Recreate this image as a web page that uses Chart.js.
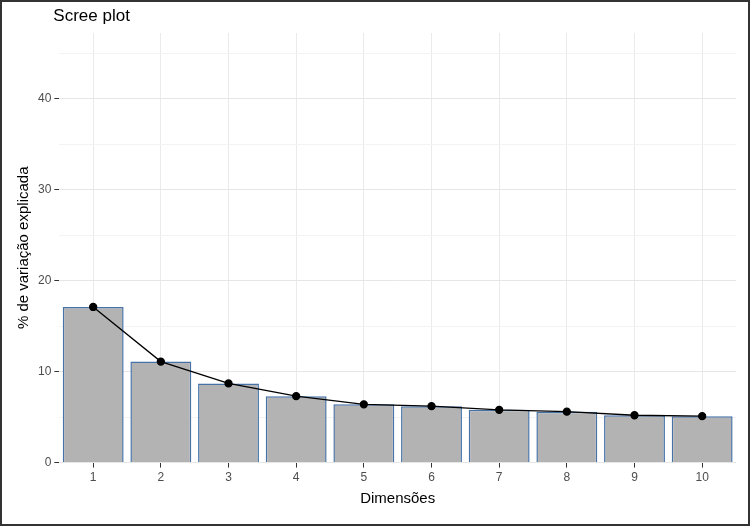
<!DOCTYPE html>
<html>
<head>
<meta charset="utf-8">
<script src="https://cdn.jsdelivr.net/npm/chart.js@4"></script>
<style>
  body { margin: 0; background: #fff; }
  #wrap { width: 750px; height: 526px; box-sizing: border-box; border: 2px solid #333; }
</style>
</head>
<body>
<div id="wrap"><canvas id="scree" width="746" height="522"></canvas></div>
<script>
const dims = ["1", "2", "3", "4", "5", "6", "7", "8", "9", "10"];
const variancia = [17.1, 11.1, 8.7, 7.3, 6.4, 6.2, 5.8, 5.6, 5.2, 5.1];
const yTicks = [0, 5, 10, 15, 20, 25, 30, 35, 40, 45];
const tituloGrafico = "Scree plot";

// title drawn by hand so it lines up with the plot panel like ggplot
const titlePlugin = {
  id: "ggTitle",
  afterDraw(chart) {
    const ctx = chart.ctx;
    ctx.save();
    ctx.fillStyle = "#000";
    ctx.font = "17px 'Liberation Sans'";
    ctx.textBaseline = "middle";
    ctx.fillText(tituloGrafico, chart.chartArea.left - 6, 14);
    ctx.restore();
  },
};

const data = {
  labels: dims,
  datasets: [
    {
      type: "line",
      data: variancia,
      borderColor: "#000",
      backgroundColor: "#000",
      borderWidth: 1.3,
      pointRadius: 3.5,
      tension: 0,
      order: 0,
    },
    {
      type: "bar",
      data: variancia,
      backgroundColor: "#B3B3B3",
      borderColor: "#4672A8",
      borderWidth: 1.5,
      barPercentage: 0.9,
      categoryPercentage: 1,
      order: 1,
    },
  ],
};

const config = {
  data: data,
  options: {
    responsive: false,
    animation: false,
    layout: { padding: { left: 11, right: 12, top: 31, bottom: 14 } },
    plugins: {
      legend: { display: false },
      tooltip: { enabled: false },
      title: { display: false },
    },
    scales: {
      x: {
        offset: true,
        grid: { color: "#EBEBEB", offset: false, drawTicks: true, tickLength: 5, tickColor: "#333" },
        border: { display: false },
        ticks: { color: "#4D4D4D", font: { family: "Liberation Sans", size: 12 } },
        title: { display: true, text: "Dimensões", color: "#000", font: { family: "Liberation Sans", size: 15 }, padding: 2 },
      },
      y: {
        min: 0,
        max: 47.2,
        afterBuildTicks: (axis) => { axis.ticks = yTicks.map(v => ({ value: v })); },
        grid: {
          color: (c) => (c.tick && c.tick.value % 10 === 0 ? "#E6E6E6" : "#F3F3F3"),
          tickColor: (c) => (c.tick && c.tick.value % 10 === 0 ? "#333" : "transparent"),
          tickLength: 5,
        },
        border: { display: false },
        ticks: {
          color: "#4D4D4D",
          font: { family: "Liberation Sans", size: 12 },
          callback: (v) => (v % 10 === 0 ? v : ""),
        },
        title: { display: true, text: "% de variação explicada", color: "#000", font: { family: "Liberation Sans", size: 15 }, padding: 2 },
      },
    },
  },
  plugins: [titlePlugin],
};

new Chart(document.getElementById("scree"), config);
</script>
</body>
</html>
